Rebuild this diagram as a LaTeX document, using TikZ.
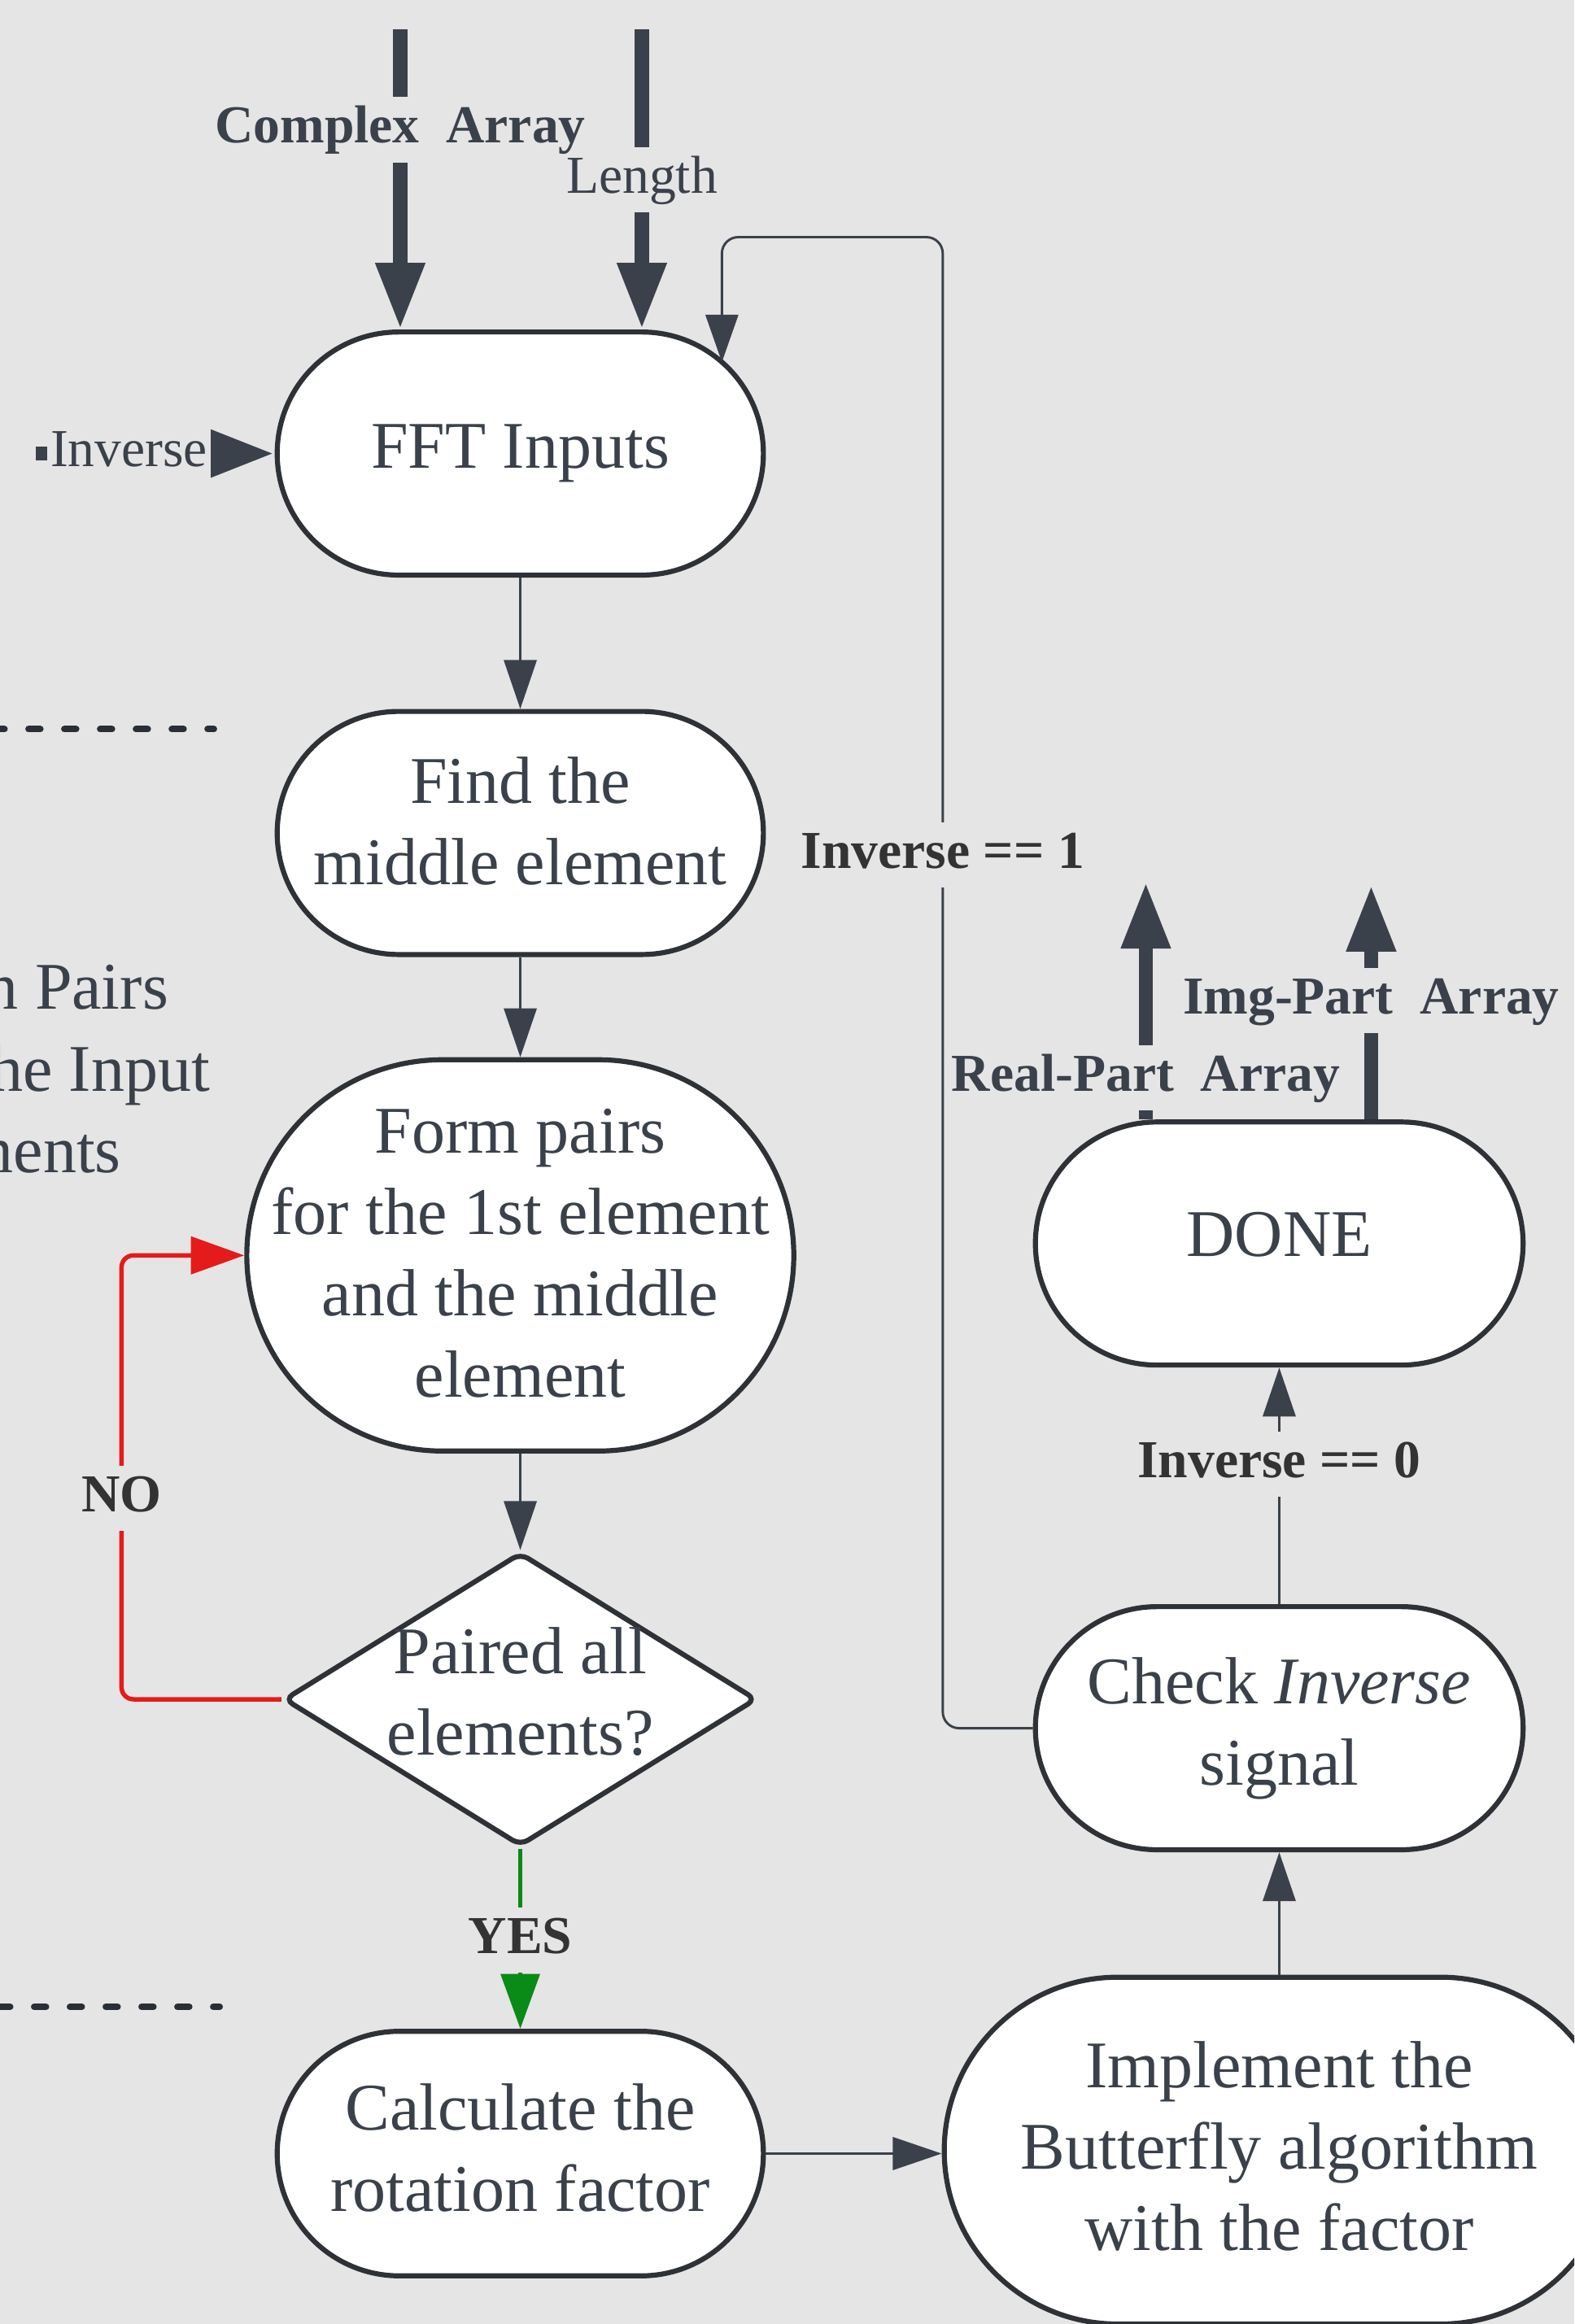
\documentclass[tikz,border=0pt]{standalone}
\usepackage{fontspec}
\setmainfont{Liberation Serif}
\usetikzlibrary{arrows.meta,shapes.misc,shapes.geometric,calc}
\definecolor{bg}{HTML}{E5E5E5}
\definecolor{bord}{HTML}{2E3136}
\definecolor{ln}{HTML}{3A414A}
\definecolor{tx}{HTML}{3A414A}
\definecolor{lbl}{HTML}{333333}
\definecolor{nored}{HTML}{E51B1B}
\definecolor{yesgreen}{HTML}{0A8A16}
\definecolor{dashc}{HTML}{2A2F36}
\begin{document}
\begin{tikzpicture}[x=0.5pt,y=-0.5pt,
  box/.style={rounded rectangle, draw=bord, line width=1.7pt, fill=white, inner sep=0pt},
  txt/.style={font=\fontsize{22.5}{27.4}\selectfont, text=tx, align=center, inner sep=0pt},
  lab/.style={font=\fontsize{18}{21}\selectfont\bfseries, text=tx, fill=bg, inner xsep=1pt, inner ysep=2.5pt, text height=13pt, text depth=4pt},
  labr/.style={lab, font=\fontsize{18}{21}\selectfont},
  thinarrow/.style={draw=ln, line width=0.9pt, -{Triangle[length=16.5pt,width=11pt]}, fill=ln},
  looparrow/.style={draw=ln, line width=0.8pt, rounded corners=5.5pt, -{Triangle[length=16pt,width=11pt]}},
  thickarrow/.style={draw=ln, line width=4.9pt, -{Triangle[length=22.5pt,width=15.5pt]}},
  noarrow/.style={draw=nored, line width=1.5pt, rounded corners=4pt, -{Triangle[length=18pt,width=12.5pt]}},
  yesarrow/.style={draw=yesgreen, line width=1.5pt, -{Triangle[length=18.5pt,width=13pt]}},
  dashline/.style={draw=dashc, line width=2.2pt, line cap=round, dash pattern=on 3.98pt off 8.1pt}
]
\useasboundingbox (0,0) rectangle (1062,1568);
\clip (0,0) rectangle (1062,1568);
\fill[bg] (0,0) rectangle (1062,1568);

% dashed separators
\draw[dashline] (-4.9,492) -- (144.3,492);
\draw[dashline] (-1.1,1354) -- (148.2,1354);

% clipped side text
\node[txt, anchor=base east] (frag1) at (114,681) {n Pairs};
\node[txt, anchor=base east] (frag2) at (142,736) {he Input};
\node[txt, anchor=base east] (frag3) at (82,791) {nents};

% boxes
\node[box, minimum width=164pt, minimum height=82pt,
  label={[txt]center:FFT Inputs}] (fft) at (351,306) {};
\node[box, minimum width=164pt, minimum height=82pt,
  label={[txt,yshift=4pt]center:Find the\\middle element}] (find) at (351,562) {};
\node[box, minimum width=184.5pt, minimum height=132pt,
  label={[txt,yshift=0.75pt]center:Form pairs\\for the 1st element\\and the middle\\element}] (form) at (351,847) {};
\node[diamond, draw=bord, line width=1.7pt, fill=white, rounded corners=3pt, inner sep=0pt,
  minimum width=159.5pt, minimum height=99pt,
  label={[txt,yshift=2.5pt]center:Paired all\\elements?}] (dia) at (351,1146.5) {};
\node[box, minimum width=164pt, minimum height=82.5pt,
  label={[txt,yshift=2pt]center:Calculate the\\rotation factor}] (calc) at (351,1453) {};
\node[box, minimum width=226pt, minimum height=117pt,
  label={[txt,yshift=1.5pt]center:Implement the\\Butterfly algorithm\\with the factor}] (impl) at (863,1451) {};
\node[box, minimum width=164.5pt, minimum height=82pt,
  label={[txt]center:Check \textit{Inverse}\\signal}] (check) at (863,1166) {};
\node[box, minimum width=164.5pt, minimum height=82pt,
  label={[txt,yshift=3pt]center:DONE}] (done) at (863,839) {};

% free ends
\coordinate (cain) at (270,20);
\coordinate (lenin) at (433,20);
\coordinate (invin) at (24,306);
\coordinate (realout) at (773,595);
\coordinate (imgout) at (925,597);
\coordinate (loopa) at (636,160);
\coordinate (loopb) at (487,160);
\coordinate (nocorner) at (82,1000);

% connectors
\draw[thickarrow] (cain) -- (cain |- fft.north);
\draw[thickarrow] (lenin) -- (lenin |- fft.north);
\draw[thickarrow] (invin) -- (fft.west);
\draw[thinarrow] (fft) -- (find);
\draw[thinarrow] (find) -- (form);
\draw[thinarrow] (form) -- (dia);
\draw[yesarrow] (dia) -- (calc);
\draw[noarrow] (dia.west) -| (nocorner) |- (form.west);
\draw[thinarrow] (calc.east) -- (calc.east -| impl.west);
\draw[thinarrow] (impl) -- (check);
\draw[thinarrow] (check) -- (done);
\draw[looparrow] (check.west) -| (loopa) -- (loopb) -- (loopb |- fft.24.5);
\draw[thickarrow] (done.north -| realout) -- (realout);
\draw[thickarrow] (done.north -| imgout) -- (imgout);

% labels on connectors
\node[lab] (lca) at (270,87.5) {Complex~~Array};
\node[labr, inner xsep=-19pt] (llen) at (433,121.5) {Length};
\node[labr] (linv) at (87,306) {Inverse};
\node[lab, text=lbl] (li1) at (636,577) {Inverse == 1};
\node[lab, inner xsep=0.5pt] (lreal) at (773,727) {Real-Part~~Array};
\node[lab, inner xsep=0.5pt] (limg) at (925,675) {Img-Part~~Array};
\node[lab, text=lbl] (li0) at (863,988) {Inverse == 0};
\node[lab, text=lbl] (lno) at (82,1011) {NO};
\node[lab, text=lbl] (lyes) at (351,1309) {YES};
\end{tikzpicture}
\end{document}
